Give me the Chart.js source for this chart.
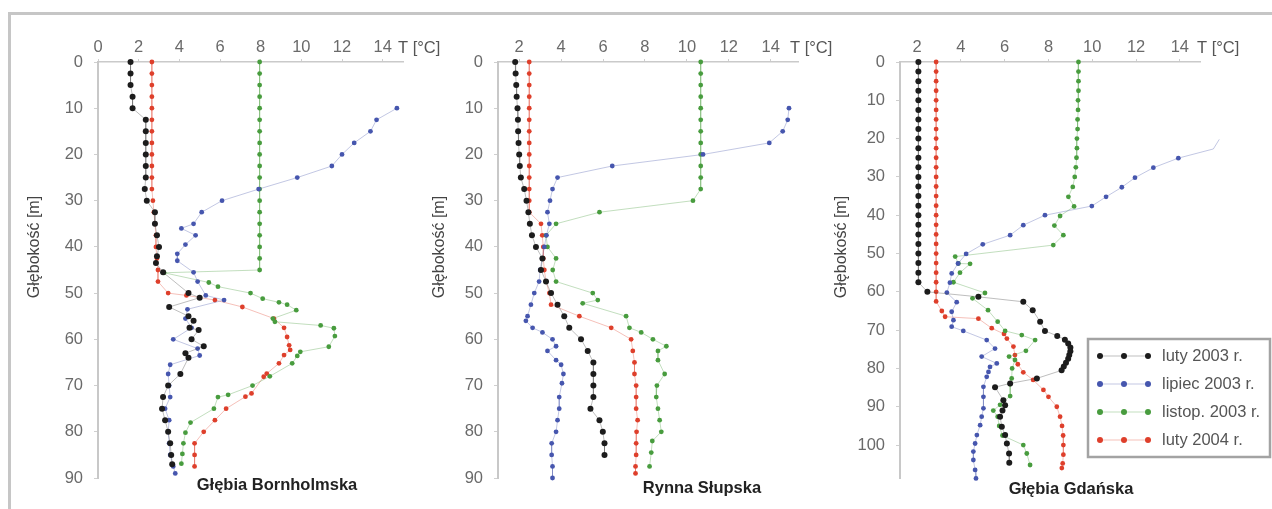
<!DOCTYPE html>
<html>
<head>
<meta charset="utf-8">
<script src="https://cdn.jsdelivr.net/npm/chart.js@4.4.1/dist/chart.umd.min.js"></script>
<style>
  body { margin: 0; background: #fff; width: 1272px; height: 509px; overflow: hidden; position: relative; }
  #frame { position: absolute; left: 8px; top: 12px; width: 1300px; height: 520px;
           border-top: 3px solid #c6c6c6; border-left: 3px solid #c6c6c6; }
  canvas { position: absolute; top: 14px; }
</style>
</head>
<body>
<div id="frame"></div>
<canvas id="bornholm" width="450" height="495" style="left:10px"></canvas>
<canvas id="slupsk" width="440" height="495" style="left:420px"></canvas>
<canvas id="gdansk" width="452" height="495" style="left:820px"></canvas>
<script>
'use strict';

// --- DANE ---
const SERIES = ['luty 2003 r.', 'lipiec 2003 r.', 'listop. 2003 r.', 'luty 2004 r.'];
const X_TICKS_BORN = [0, 2, 4, 6, 8, 10, 12, 14];
const X_TICKS = [2, 4, 6, 8, 10, 12, 14];
const Y_TICKS_90 = [0, 10, 20, 30, 40, 50, 60, 70, 80, 90];
const Y_TICKS_GDA = [0, 10, 20, 30, 40, 50, 60, 70, 80, 90, 100];

// Głębia Bornholmska
const bornDepthFeb03 = [0, 2.5, 5, 7.5, 10, 12.5, 15, 17.5, 20, 22.5, 25, 27.5, 30, 32.5, 35, 37.5, 40, 42, 43.5, 45.5,
  50, 51, 53, 55, 56, 57.5, 58, 60, 61.5, 63, 64, 67.5, 70, 72.5, 75, 77.5, 80, 82.5, 85, 87];
const bornTempFeb03 = [1.6, 1.6, 1.6, 1.7, 1.7, 2.35, 2.35, 2.35, 2.35, 2.35, 2.35, 2.3, 2.4, 2.8, 2.8, 2.9, 3.0, 2.9, 2.85, 3.2,
  4.45, 5.0, 3.5, 4.45, 4.7, 4.5, 4.95, 4.6, 5.2, 4.3, 4.45, 4.05, 3.45, 3.2, 3.15, 3.3, 3.45, 3.55, 3.6, 3.65];

const bornDepthJul03 = [10, 12.5, 15, 17.5, 20, 22.5, 25, 27.5, 30, 32.5, 35, 36, 37.5, 39.5, 41.5, 43, 45.5, 47.5, 50.5, 51.5,
  53.5, 55.5, 57.5, 60, 62, 63.5, 65.5, 67.5, 70, 72.5, 75, 77.5, 80, 82.5, 85, 87.5, 89];
const bornTempJul03 = [14.7, 13.7, 13.4, 12.6, 12.0, 11.5, 9.8, 7.9, 6.1, 5.1, 4.7, 4.1, 4.8, 4.3, 3.9, 3.9, 4.7, 4.9, 5.3, 6.2,
  4.4, 4.3, 4.6, 3.7, 4.9, 5.0, 3.55, 3.45, 3.5, 3.55, 3.3, 3.5, 3.45, 3.5, 3.55, 3.7, 3.8];

const bornDepthNov03 = [0, 2.5, 5, 7.5, 10, 12.5, 15, 17.5, 20, 22.5, 25, 27.5, 30, 32.5, 35, 37.5, 40, 42.5, 45, 45.6,
  47.7, 48.6, 50, 51.2, 52, 52.5, 53.7, 55.5, 56.2, 57, 57.6, 59.3, 61.6, 62.7, 63.6, 65.2, 68, 70, 72, 72.5, 75, 78, 80.2, 82.5, 84.8, 86.9];
const bornTempNov03 = [7.95, 7.95, 7.95, 7.95, 7.95, 7.95, 7.95, 7.95, 7.95, 7.95, 7.95, 7.95, 7.95, 7.95, 7.95, 7.95, 7.95, 7.95, 7.95, 3.25,
  5.45, 5.9, 7.5, 8.1, 8.9, 9.3, 9.75, 8.6, 8.7, 10.95, 11.6, 11.65, 11.35, 9.95, 9.8, 9.55, 8.45, 7.6, 6.4, 5.9, 5.7, 4.55, 4.3, 4.2, 4.15, 4.1];

const bornDepthFeb04 = [0, 2.5, 5, 7.5, 10, 12.5, 15, 17.5, 20, 22.5, 25, 27.5, 30, 32.5, 35, 37.5, 40, 42.5, 45, 47.5,
  50, 50.5, 51.5, 53, 55.5, 57.5, 59.5, 61.3, 62.3, 63.4, 65.2, 67.4, 68.1, 71.7, 72.4, 75, 77.5, 80, 82.5, 85, 87.5];
const bornTempFeb04 = [2.65, 2.65, 2.65, 2.65, 2.65, 2.65, 2.65, 2.65, 2.65, 2.65, 2.65, 2.65, 2.7, 2.75, 2.8, 2.85, 2.85, 2.9, 2.95, 2.95,
  3.45, 4.35, 5.75, 7.1, 8.65, 9.15, 9.3, 9.4, 9.45, 9.15, 8.9, 8.3, 8.15, 7.55, 7.25, 6.3, 5.75, 5.2, 4.75, 4.75, 4.75];

// Rynna Słupska
const slupDepthFeb03 = [0, 2.5, 5, 7.5, 10, 12.5, 15, 17.5, 20, 22.5, 25, 27.5, 30, 32.5, 35, 37.5, 40, 42.5, 45, 47.5,
  50, 52.5, 55, 57.5, 60, 62.5, 65, 67.5, 70, 72.5, 75, 77.5, 80, 82.5, 85];
const slupTempFeb03 = [1.81, 1.83, 1.86, 1.88, 1.92, 1.94, 1.95, 1.97, 2.0, 2.03, 2.08, 2.24, 2.35, 2.44, 2.51, 2.61, 2.8, 3.11, 3.04, 3.28,
  3.52, 3.83, 4.15, 4.39, 4.95, 5.27, 5.54, 5.54, 5.54, 5.54, 5.4, 5.83, 5.99, 6.07, 6.07];

const slupDepthJul03 = [10, 12.5, 15, 17.5, 20, 22.5, 25, 27.5, 30, 32.5, 35, 37.5, 40, 42.5, 45, 47.5,
  50, 52.5, 55, 56, 57.5, 58.5, 60, 61.5, 62.5, 64.5, 65.5, 67.5, 69.5, 72.5, 75, 77.5, 80, 82.5, 85, 87.5, 90];
const slupTempJul03 = [14.87, 14.81, 14.57, 13.93, 10.77, 6.44, 3.83, 3.59, 3.47, 3.35, 3.44, 3.3, 3.2, 3.1, 3.0, 2.95,
  2.72, 2.56, 2.4, 2.32, 2.64, 3.11, 3.59, 3.76, 3.35, 3.76, 4.0, 4.11, 4.04, 3.91, 3.91, 3.83, 3.76, 3.55, 3.55, 3.59, 3.59];

const slupDepthNov03 = [0, 2.5, 5, 7.5, 10, 12.5, 15, 17.5, 20, 22.5, 25, 27.5,
  30, 32.5, 35, 37.5, 40, 42.5, 45, 47.5, 50, 51.5, 52.2, 55, 57.5, 58.5, 60, 61.5, 62.5, 64.5, 67.5, 70, 72.5, 75, 77.5, 80, 82, 84.5, 87.5];
const slupTempNov03 = [10.66, 10.66, 10.66, 10.66, 10.66, 10.66, 10.66, 10.66, 10.66, 10.66, 10.66, 10.66,
  10.29, 5.83, 3.76, 3.28, 3.35, 3.76, 3.6, 3.76, 5.51, 5.75, 5.03, 7.1, 7.26, 7.82, 8.38, 9.02, 8.62, 8.62, 8.94, 8.57, 8.54, 8.62, 8.7, 8.78, 8.35, 8.3, 8.22];

const slupDepthFeb04 = [0, 2.5, 5, 7.5, 10, 12.5, 15, 17.5, 20, 22.5, 25, 27.5, 30, 32.5,
  35, 37.5, 40, 42.5, 45, 47.5, 50, 52.5, 55, 57.5, 60, 62.5, 65, 67.5, 70, 72.5, 75, 77.5, 80, 82.5, 85, 87.5, 89];
const slupTempFeb04 = [2.48, 2.48, 2.48, 2.48, 2.48, 2.48, 2.48, 2.48, 2.48, 2.48, 2.48, 2.48, 2.48, 2.48,
  3.04, 3.1, 3.15, 3.15, 3.2, 3.28, 3.44, 3.52, 4.87, 6.39, 7.34, 7.42, 7.5, 7.5, 7.58, 7.58, 7.58, 7.65, 7.6, 7.58, 7.58, 7.55, 7.55];

// Głębia Gdańska
const gdaDepthFeb03 = [0, 2.5, 5, 7.5, 10, 12.5, 15, 17.5, 20, 22.5, 25, 27.5, 30, 32.5, 35, 37.5, 40, 42.5, 45, 47.5, 50, 52.5, 55, 57.5,
  60, 61.3, 62.6, 64.8, 67.8, 70.2, 71.5, 72.5, 73.5, 74.5, 75.5, 76.5, 77.5, 78.5, 79.5, 80.5, 82.6, 83.9, 84.9, 88.3,
  89.6, 91, 92.6, 95.2, 97.4, 99.6, 102.2, 104.6];
const gdaTempFeb03 = [2.06, 2.06, 2.06, 2.06, 2.06, 2.06, 2.06, 2.06, 2.06, 2.06, 2.06, 2.06, 2.06, 2.06, 2.06, 2.06, 2.06, 2.06, 2.06, 2.06, 2.06, 2.06, 2.06, 2.06,
  2.47, 4.8, 6.85, 7.28, 7.62, 7.84, 8.4, 8.75, 8.9, 9.0, 9.0, 8.95, 8.9, 8.8, 8.7, 8.6, 7.47, 6.25, 5.56, 5.94,
  6.02, 5.9, 5.79, 5.87, 6.02, 6.1, 6.2, 6.21];

const gdaDepthJul03 = [20.2, 22.7, 25.1, 27.6, 30.2, 32.7, 35.2, 37.6, 40, 42.6, 45.2, 47.6, 50.1, 52.6, 55.2, 57.6, 60.2, 62.7, 65.2, 67.4,
  69.1, 70.2, 72.6, 74.8, 76.9, 78.7, 79.6, 80.9, 82.2, 84.8, 87.4, 90.4, 92.6, 94.8, 97.4, 99.6, 101.7, 103.9, 106.5, 108.7];
const gdaTempJul03 = [15.8, 15.53, 13.93, 12.79, 11.95, 11.35, 10.63, 9.98, 7.84, 6.85, 6.25, 5.0, 4.24, 3.87, 3.58, 3.5, 3.36, 3.81, 3.58, 3.66,
  3.58, 4.11, 5.18, 5.56, 4.95, 5.64, 5.33, 5.26, 5.18, 5.03, 5.03, 5.03, 4.95, 4.88, 4.73, 4.65, 4.57, 4.57, 4.65, 4.69];

const gdaDepthNov03 = [0, 2.5, 5, 7.5, 10, 12.5, 15, 17.5, 20, 22.5, 25, 27.5, 30,
  32.6, 35.2, 37.7, 40.2, 42.7, 45.2, 47.8, 50.8, 52.6, 52.7, 55, 57.5, 60.3, 61.7, 64.8, 67.8, 70.2, 71.3, 72.6, 75.4,
  76.9, 77.8, 80, 82.6, 84.1, 87.2, 89.5, 91, 92.6, 95, 97.5, 100, 102.2, 105.2];
const gdaTempNov03 = [9.37, 9.37, 9.37, 9.37, 9.35, 9.35, 9.33, 9.33, 9.3, 9.3, 9.28, 9.25, 9.2,
  9.11, 8.91, 9.17, 8.53, 8.27, 8.68, 8.22, 3.74, 3.89, 4.42, 3.96, 3.66, 5.1, 4.53, 5.24, 5.68, 6.02, 6.78, 7.39, 6.97,
  6.2, 6.47, 6.34, 6.32, 6.25, 6.25, 5.79, 5.48, 5.68, 5.75, 5.9, 6.85, 7.01, 7.16];

const gdaDepthFeb04 = [0, 2.5, 5, 7.5, 10, 12.5, 15, 17.5, 20, 22.5, 25, 27.5, 30, 32.5, 35, 37.5, 40, 42.5, 45, 47.5, 50, 52.5, 55, 57.5, 60, 62.5,
  65, 66.5, 67, 69.5, 71, 72.2, 74.3, 76.5, 78.9, 81, 83, 85.6, 87.4, 90, 92.6, 95, 97.5, 100, 102.5, 104.8, 106];
const gdaTempFeb04 = [2.87, 2.87, 2.87, 2.87, 2.87, 2.87, 2.87, 2.87, 2.87, 2.87, 2.87, 2.87, 2.87, 2.87, 2.87, 2.87, 2.87, 2.87, 2.87, 2.87, 2.87, 2.87, 2.87, 2.87, 2.87, 2.87,
  3.13, 3.28, 4.8, 5.41, 5.97, 6.1, 6.4, 6.47, 6.6, 6.85, 7.3, 7.77, 8.0, 8.38, 8.53, 8.62, 8.67, 8.68, 8.68, 8.65, 8.61];

// --- STYL ---
const FONT = '"Liberation Sans", Arial, sans-serif';
const DOT = ['#1c1c1c', '#4656ae', '#489c3e', '#de3f2b'];
const LINE = ['rgba(70,70,70,0.35)', 'rgba(80,95,175,0.35)', 'rgba(80,160,70,0.35)', 'rgba(225,75,55,0.35)'];
const RADIUS = [3, 2.4, 2.4, 2.4];

Chart.defaults.font.family = FONT;

const toPoints = (depth, temp) => depth.map((d, i) => ({ x: temp[i], y: d }));

function makeDatasets(pairs) {
    return pairs.map(([depth, temp], i) => ({
        label: SERIES[i],
        data: toPoints(depth, temp),
        showLine: true,
        borderColor: LINE[i],
        borderWidth: 1,
        pointRadius: RADIUS[i],
        pointBorderWidth: 0,
        pointBackgroundColor: DOT[i],
        clip: false
    }));
}

// napisy: jednostka, podpis panelu, tytuł osi Y, legenda
const panelText = {
    id: 'panelText',
    afterDraw(chart, args, o) {
        const ctx = chart.ctx;
        ctx.save();
        ctx.textBaseline = 'middle';
        ctx.font = '16.5px ' + FONT;
        ctx.fillStyle = '#555';
        ctx.textAlign = 'left';
        ctx.fillText('T [°C]', o.unitX, o.unitY);

        ctx.font = 'bold 16.5px ' + FONT;
        ctx.fillStyle = '#222';
        ctx.textAlign = 'center';
        ctx.fillText(o.caption, o.captionX, o.captionY);

        ctx.save();
        ctx.translate(o.titleX, o.titleY);
        ctx.rotate(-Math.PI / 2);
        ctx.font = '16px ' + FONT;
        ctx.fillStyle = '#444';
        ctx.fillText('Głębokość [m]', 0, 0);
        ctx.restore();

        if (o.legend) {
            const L = o.legend;
            ctx.strokeStyle = '#a3a3a3';
            ctx.lineWidth = 2.5;
            ctx.strokeRect(L.x, L.y, L.w, L.h);
            ctx.font = '16.5px ' + FONT;
            ctx.textAlign = 'left';
            SERIES.forEach((name, i) => {
                const y = L.y + L.first + i * L.step;
                ctx.strokeStyle = LINE[i];
                ctx.lineWidth = 1;
                ctx.beginPath();
                ctx.moveTo(L.x + 12, y);
                ctx.lineTo(L.x + 60, y);
                ctx.stroke();
                ctx.fillStyle = DOT[i];
                [12, 36, 60].forEach(dx => {
                    ctx.beginPath();
                    ctx.arc(L.x + dx, y, 3, 0, Math.PI * 2);
                    ctx.fill();
                });
                ctx.fillStyle = '#555';
                ctx.fillText(name, L.x + 74, y);
            });
        }
        ctx.restore();
    }
};

function makePanel(id, cfg) {
    const tickFont = { family: FONT, size: 16.5 };
    return new Chart(document.getElementById(id), {
        type: 'scatter',
        data: { datasets: makeDatasets(cfg.series) },
        options: {
            responsive: false,
            animation: false,
            events: [],
            layout: { padding: { left: 0, top: 0, right: cfg.padRight, bottom: 31 } },
            scales: {
                x: {
                    type: 'linear',
                    position: 'top',
                    min: cfg.xMin,
                    max: cfg.xMax,
                    afterBuildTicks: s => { s.ticks = cfg.xTicks.map(v => ({ value: v })); },
                    afterFit: s => { s.height = 48; },
                    ticks: { color: '#6a6a6a', font: tickFont, padding: 2, maxRotation: 0, autoSkip: false },
                    grid: { drawOnChartArea: false, drawTicks: true, tickLength: 3, color: '#cfcfcf' },
                    border: { color: '#cacaca', width: 1.5 }
                },
                y: {
                    type: 'linear',
                    reverse: true,
                    min: 0,
                    max: cfg.yMax,
                    afterBuildTicks: s => { s.ticks = cfg.yTicks.map(v => ({ value: v })); },
                    afterFit: s => { s.width = cfg.yWidth; },
                    ticks: { color: '#6a6a6a', font: tickFont, padding: 11, autoSkip: false },
                    grid: { drawOnChartArea: false, drawTicks: true, tickLength: 4, color: '#cfcfcf' },
                    border: { color: '#c8c8c8', width: 2 }
                }
            },
            plugins: {
                legend: { display: false },
                tooltip: { enabled: false },
                panelText: cfg.text
            }
        },
        plugins: [panelText]
    });
}

makePanel('bornholm', {
    series: [[bornDepthFeb03, bornTempFeb03], [bornDepthJul03, bornTempJul03], [bornDepthNov03, bornTempNov03], [bornDepthFeb04, bornTempFeb04]],
    xMin: 0, xMax: 15, xTicks: X_TICKS_BORN, yMax: 90, yTicks: Y_TICKS_90,
    yWidth: 88, padRight: 57,
    text: { unitX: 388, unitY: 34, caption: 'Głębia Bornholmska', captionX: 267, captionY: 471, titleX: 25, titleY: 233 }
});

makePanel('slupsk', {
    series: [[slupDepthFeb03, slupTempFeb03], [slupDepthJul03, slupTempJul03], [slupDepthNov03, slupTempNov03], [slupDepthFeb04, slupTempFeb04]],
    xMin: 0.99, xMax: 15.3, xTicks: X_TICKS, yMax: 90, yTicks: Y_TICKS_90,
    yWidth: 78, padRight: 62,
    text: { unitX: 370, unitY: 34, caption: 'Rynna Słupska', captionX: 282, captionY: 474, titleX: 20, titleY: 233 }
});

makePanel('gdansk', {
    series: [[gdaDepthFeb03, gdaTempFeb03], [gdaDepthJul03, gdaTempJul03], [gdaDepthNov03, gdaTempNov03], [gdaDepthFeb04, gdaTempFeb04]],
    xMin: 1.22, xMax: 14.92, xTicks: X_TICKS, yMax: 108.6, yTicks: Y_TICKS_GDA,
    yWidth: 80, padRight: 72,
    text: { unitX: 377, unitY: 34, caption: 'Głębia Gdańska', captionX: 251, captionY: 475, titleX: 22, titleY: 233,
            legend: { x: 268, y: 325, w: 182, h: 118, first: 17, step: 28 } }
});
</script>
</body>
</html>
